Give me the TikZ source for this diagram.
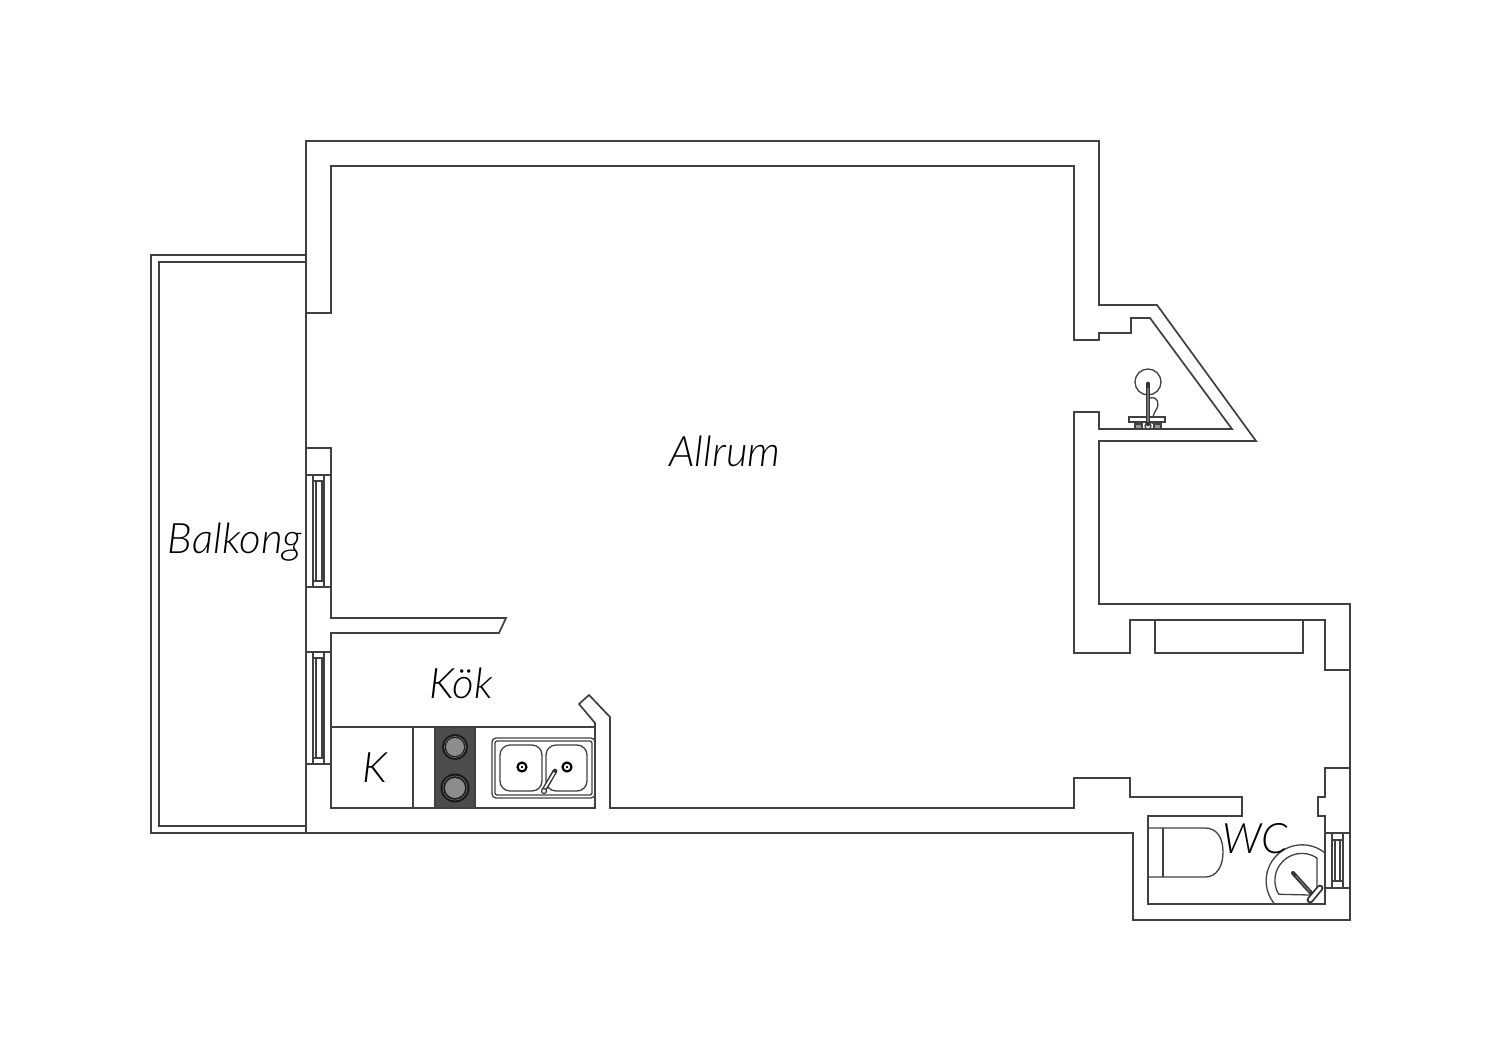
\documentclass[tikz,border=0pt]{standalone}
\usepackage{fontspec}
\setmainfont[ItalicFont={Lato Light Italic}]{Lato Light}
\usepackage{tikz}

\tikzset{
    wall/.style={draw=black!75, line width=.85pt, line join=miter},
    thin wall/.style={draw=black!75, line width=.65pt},
    tap/.style={draw=black!80, line width=2.4pt, line cap=round},
    tap core/.style={draw=white, line width=.9pt, line cap=round},
    room/.style={font=\fontsize{21}{23}\selectfont\itshape, text=black, inner sep=0pt}
}

\begin{document}
\begin{tikzpicture}[x=.5pt, y=-.5pt]
    \useasboundingbox (0,0) rectangle (1500,1060);

    % Balcony
    \draw[wall] (306,255) -- (151,255) -- (151,833) -- (306,833);
    \draw[wall] (306,262) -- (159,262) -- (159,826) -- (306,826);

    % Outer walls
    \draw[wall] (306,141) -- (1099,141) -- (1099,305) -- (1157,305) -- (1256,441) -- (1099,441)
        -- (1099,604) -- (1350,604) -- (1350,920) -- (1133,920) -- (1133,833) -- (306,833) -- cycle;

    % Inner walls
    \draw[wall] (306,313) -- (331,313) -- (331,166) -- (1074,166) -- (1074,340) -- (1099,340)
        -- (1099,333) -- (1131,333) -- (1131,318) -- (1150,318) -- (1232,429) -- (1099,429)
        -- (1099,412) -- (1074,412) -- (1074,653) -- (1130,653) -- (1130,620) -- (1325,620)
        -- (1325,670) -- (1350,670);
    \draw[wall] (1350,768) -- (1325,768) -- (1325,797) -- (1318,797) -- (1318,816) -- (1325,816)
        -- (1325,904) -- (1148,904) -- (1148,816) -- (1242,816) -- (1242,797) -- (1130,797)
        -- (1130,778) -- (1074,778) -- (1074,808) -- (610,808) -- (610,717) -- (589,695)
        -- (579,704) -- (595,723) -- (595,808) -- (331,808) -- (331,633) -- (499,633)
        -- (506,618) -- (331,618) -- (331,448) -- (306,448);

    % Shelf
    \draw[wall] (1155,620) -- (1155,653) -- (1303,653) -- (1303,620);

    % Windows
    \foreach \wy/\wh in {475/587, 652/764}{
        \draw[thin wall] (306,\wy) -- (331,\wy) (306,\wh) -- (331,\wh);
        \draw[thin wall] (313,\wy) rectangle (324,\wh);
        \draw[thin wall] (316,\wy+6) rectangle (322,\wh-6);
        \draw[thin wall] (313,\wy+6) -- (324,\wy+6) (313,\wh-6) -- (324,\wh-6);
    }
    \draw[thin wall] (1325,833) -- (1350,833) (1325,888) -- (1350,888);
    \draw[thin wall] (1332,833) rectangle (1343,888);
    \draw[thin wall] (1335,840) rectangle (1340,881);
    \draw[thin wall] (1332,840) -- (1343,840) (1332,881) -- (1343,881);

    % Kitchen
    \draw[wall] (331,727) -- (595,727);
    \draw[thin wall] (413,727) -- (413,808);
    \draw[thin wall, fill=black!70] (435,727) rectangle (475,808);
    \foreach \py/\pr/\pi in {747/13/9, 788/14.5/10}{
        \fill[black!90] (455,\py) circle (\pr*.5pt);
        \draw[black!55, line width=.3pt] (455,\py) circle (\pr*.5pt-1.2pt);
        \fill[black!45] (455,\py) circle (\pi*.5pt);
    }
    \draw[thin wall, rounded corners=2pt] (492,738) rectangle (595,798);
    \draw[thin wall, rounded corners=1pt] (495,741) rectangle (592,795);
    \draw[thin wall, rounded corners=5pt] (500,745) rectangle (542,791);
    \draw[thin wall, rounded corners=5pt] (546,745) rectangle (587,791);
    \foreach \sx in {522,567}{
        \draw[black, line width=1.1pt] (\sx,767) circle (4.5*.5pt);
        \fill[black] (\sx,767) circle (1.3*.5pt);
    }
    \draw[tap] (544,790) -- (555,771);
    \draw[tap core] (545,788) -- (554,773);
    \draw[thin wall, fill=white] (544,791) circle (2.5*.5pt);

    % Basin
    \draw[thin wall] (1148,382) circle (13*.5pt);
    \draw[thin wall] (1150,398) .. controls (1158,396) and (1160,404) .. (1156,410) .. controls (1153,414) and (1153,418) .. (1152,424);
    \draw[thin wall, fill=white, line width=.9pt] (1129,417) rectangle (1165,422);
    \draw[thin wall, fill=black!40] (1135,424) rectangle (1142,429);
    \draw[thin wall, fill=black!40] (1154,424) rectangle (1161,429);
    \draw[thin wall, fill=white] (1148,426) circle (3*.5pt);
    \draw[black!80, line width=2.4pt, line cap=round] (1148,384) -- (1148,424);
    \draw[draw=black!55, line width=.8pt] (1148,388) -- (1148,422);

    % Toilet
    \draw[thin wall] (1148,828) -- (1205,828) .. controls (1217,828) and (1223,838) .. (1223,852)
        .. controls (1223,866) and (1217,877) .. (1205,877) -- (1148,877);
    \draw[thin wall] (1163,828) -- (1163,877);

    % WC basin
    \draw[thin wall] (1325,853) arc[start angle=-50.6, end angle=-219.4, radius=36];
    \draw[thin wall] (1317,888) -- (1317,858) arc[start angle=-56, end angle=-211, radius=27] -- (1310,895);
    \draw[tap, line width=2pt] (1293,873) -- (1312,894);
    \draw[draw=black!55, line width=.6pt, line cap=round] (1296,876) -- (1310,892);
    \draw[tap, line width=3.4pt] (1310,900) -- (1320,888);
    \draw[tap core, line width=1.6pt] (1310,900) -- (1320,888);

    % Labels
    \node[room] (allrum) at (725,451) {Allrum};
    \node[room] (balkong) at (235,542) {Balkong};
    \node[room] (kok) at (461,683) {Kök};
    \node[room] (k) at (375,768) {K};
    \node[room] (wc) at (1255,839) {WC};
\end{tikzpicture}
\end{document}
